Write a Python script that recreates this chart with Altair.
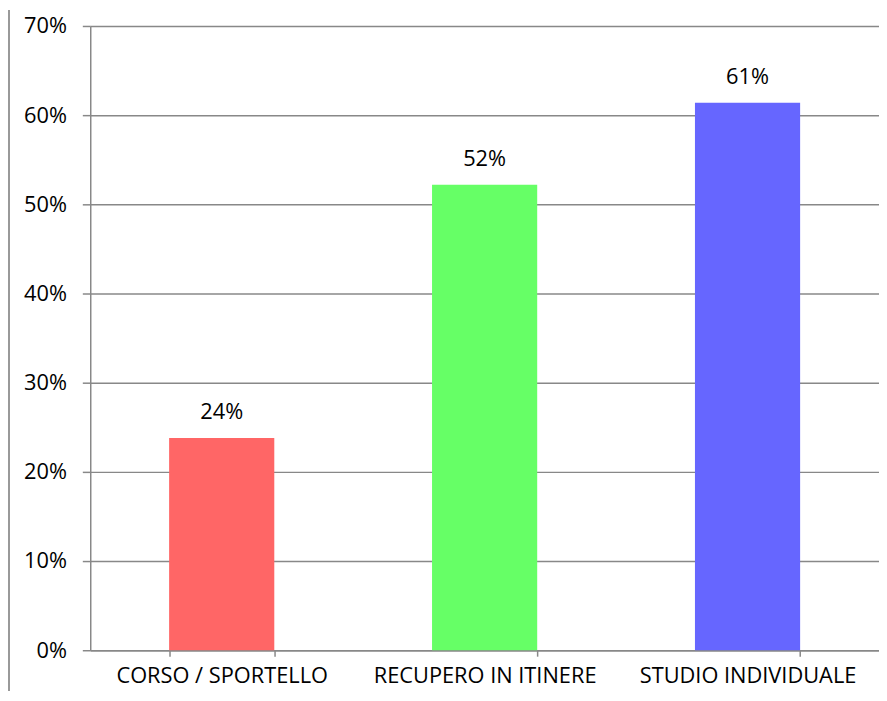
import altair as alt
import pandas as pd

categories = ["CORSO / SPORTELLO", "RECUPERO IN ITINERE", "STUDIO INDIVIDUALE"]
values = [0.238, 0.522, 0.614]
labels = ["24%", "52%", "61%"]
colors = ["#FF6666", "#66FF66", "#6666FF"]

df = pd.DataFrame({"cat": categories, "val": values, "lab": labels, "col": colors})

FONT = "Open Sans"
FS = 22

x = alt.X("cat:N", sort=categories, title=None,
          scale=alt.Scale(paddingInner=0.6, paddingOuter=0.3),
          axis=alt.Axis(labelAngle=0, labelFontSize=FS, labelColor="#000000", labelFont=FONT,
                        domainColor="#888888", tickColor="#888888", tickBand="extent",
                        tickSize=6, labelPadding=10, grid=False, labelLimit=300))
y = alt.Y("val:Q", title=None,
          scale=alt.Scale(domain=[0, 0.7], nice=False),
          axis=alt.Axis(format=".0%", values=[0, 0.1, 0.2, 0.3, 0.4, 0.5, 0.6, 0.7],
                        labelFontSize=FS, labelColor="#000000", labelFont=FONT,
                        domainColor="#888888", tickColor="#888888", tickSize=8,
                        gridColor="#888888", labelPadding=16))

base = alt.Chart(df)
bars = base.mark_bar().encode(x=x, y=y, color=alt.Color("col:N", scale=None))
text = base.mark_text(baseline="alphabetic", dy=-19, fontSize=FS, font=FONT, color="#000000").encode(
    x=alt.X("cat:N", sort=categories), y="val:Q", text="lab:N")
border = alt.Chart(df).mark_rule(color="#999999", strokeWidth=2, clip=False).encode(
    x=alt.value(-82), y=alt.value(-16), y2=alt.value(690))

chart = alt.layer(bars, text, border).properties(
    width=796, height=630,
    autosize=alt.AutoSizeParams(type="none"),
    padding={"left": 83, "top": 15, "right": 0, "bottom": 38},
).configure_view(stroke=None).configure_axis(domainWidth=1.5, tickWidth=1.5, gridWidth=1.5)

chart.save("out.html", embed_options={"renderer": "svg", "actions": False})
